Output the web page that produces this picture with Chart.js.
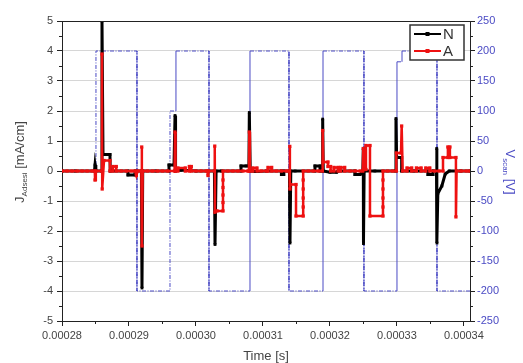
<!DOCTYPE html>
<html>
<head>
<meta charset="utf-8">
<script src="https://cdn.jsdelivr.net/npm/chart.js@4.4.1/dist/chart.umd.min.js"></script>
<style>
  html, body { margin: 0; padding: 0; background: #fff; }
</style>
</head>
<body>
<canvas id="chart" width="523" height="363"></canvas>
<script>
// time in microseconds, axis labels shown in seconds
const timeTicksUs = [280, 290, 300, 310, 320, 330, 340];

// V_scan [V]  (right axis)
const vScan = [
  [280.0, 0], [285.07, 0], [285.07, 200], [291.19, 200], [291.19, -200],
  [296.12, -200], [296.12, 100], [297.01, 100], [297.01, 200], [301.94, 200],
  [301.94, -200], [308.06, -200], [308.06, 200], [313.88, 200], [313.88, -200],
  [318.96, -200], [318.96, 200], [325.07, 200], [325.07, -200], [330.0, -200],
  [330.0, 182], [330.75, 182], [330.75, 200], [335.97, 200], [335.97, -200],
  [340.9, -200]
];

// N  [mA/cm]
const seriesN = [
  [280.0, 0], [282.0, 0], [284.85, 0], [284.93, 0.2], [285.05, 0],
  [285.9, 0], [285.97, 5.0], [286.12, 0.55], [287.16, 0.55], [287.2, 0],
  [289.85, 0], [289.85, -0.13], [290.9, -0.13], [290.9, 0],
  [291.85, 0], [291.94, -3.9], [292.05, 0], [294.0, 0],
  [295.97, 0], [295.97, 0.2], [296.72, 0.2], [296.87, 1.85], [296.95, 0], [297.7, 0.03],
  [300.0, 0], [302.75, 0], [302.84, -2.45], [303.0, 0], [303.8, 0],
  [306.72, 0], [306.72, 0.17], [307.46, 0.17], [307.9, 0.17], [307.96, 1.95], [308.1, 0],
  [308.9, -0.02], [310.5, 0],
  [312.75, 0], [312.75, -0.12], [313.1, -0.12], [313.1, 0],
  [313.95, 0], [314.03, -2.4], [314.15, 0], [314.8, 0],
  [317.76, 0], [317.76, 0.17], [318.51, 0.17], [318.51, 0], [318.85, 0], [318.91, 1.73], [319.0, 0],
  [320.0, -0.04], [321.0, -0.04], [321.2, 0],
  [323.73, 0], [323.73, -0.12], [324.5, -0.12], [324.9, 0],
  [324.97, 0.75], [325.0, -2.42], [325.1, 0], [326.7, 0],
  [329.8, 0], [329.85, 1.75], [329.95, 0.45], [330.7, 0.45], [330.7, 0], [332.5, 0],
  [334.63, 0], [334.63, -0.12], [335.37, -0.12], [335.37, 0],
  [335.9, 0], [335.93, 0.75], [335.97, -2.4], [336.1, -0.75], [336.7, -0.5], [337.2, -0.1],
  [337.8, 0], [339.5, 0], [340.9, 0]
];

// A  [mA/cm]
const seriesA = [
  [280.0, 0], [280.75, 0], [281.5, 0], [282.25, 0], [283.0, 0], [283.75, 0], [284.5, 0],
  [284.9, 0], [284.93, -0.3], [285.05, 0],
  [285.9, 0], [285.97, 3.9], [286.0, -0.6], [286.27, 0.35], [287.16, 0.35], [287.16, 0],
  [287.6, 0], [287.6, 0.15], [288.1, 0.15], [288.1, 0], [288.85, 0], [289.6, 0],
  [290.35, 0], [290.9, 0], [291.1, -0.15], [291.3, 0],
  [291.85, 0], [291.9, 0.8], [291.94, -2.5], [292.05, 0],
  [292.75, 0], [293.5, 0], [294.25, 0], [295.0, 0], [295.75, 0],
  [296.8, 0], [296.87, 1.3], [296.95, 0],
  [297.3, 0], [297.3, 0.1], [298.4, 0.1], [298.4, 0], [299.0, 0], [299.0, 0.15],
  [299.3, 0.15], [299.3, 0], [300.0, 0], [300.75, 0], [301.5, 0],
  [301.7, 0], [301.79, -0.15], [301.9, 0],
  [302.75, 0], [302.8, 0.83], [302.84, -1.37], [303.13, -1.33], [304.03, -1.33],
  [304.03, -1.05], [304.03, -0.8], [304.03, -0.55], [304.03, -0.3], [304.03, 0],
  [304.75, 0], [305.5, 0], [306.25, 0], [307.0, 0], [307.75, 0],
  [307.9, 0], [307.96, 1.3], [308.05, 0],
  [308.5, 0], [308.5, 0.1], [309.1, 0.1], [309.1, 0], [309.75, 0], [310.5, 0],
  [310.75, 0], [310.75, 0.12], [311.3, 0.12], [311.3, 0], [312.0, 0], [312.75, 0], [313.5, 0],
  [313.95, 0], [314.0, 0.82], [314.03, -0.6], [314.1, -0.45], [314.93, -0.45],
  [314.93, -1.5], [316.0, -1.5], [316.0, -1.2], [316.0, -0.9], [316.0, -0.6], [316.0, -0.3], [316.0, 0],
  [316.75, 0], [317.5, 0], [318.25, 0],
  [318.85, 0], [318.91, 1.35], [319.0, 0.3], [319.7, 0.3], [319.7, 0.15], [320.1, 0.15], [320.1, 0],
  [320.6, 0], [320.6, 0.12], [321.2, 0.12], [321.2, 0], [321.6, 0], [321.6, 0.12],
  [322.2, 0.12], [322.2, 0], [323.0, 0], [323.75, 0], [324.5, 0],
  [324.9, 0], [324.97, 0.75], [325.05, 0.05], [325.37, 0.05], [325.37, 0.85],
  [325.97, 0.85], [325.97, -1.5], [327.91, -1.5],
  [327.91, -1.2], [327.91, -0.9], [327.91, -0.6], [327.91, -0.3], [327.91, 0],
  [328.6, 0], [329.35, 0],
  [329.9, 0], [329.9, 0.6], [330.6, 0.6], [330.7, 1.5], [330.85, 0],
  [331.5, 0], [331.5, 0.1], [332.2, 0.1], [332.2, 0], [332.9, 0], [332.9, 0.1],
  [333.6, 0.1], [333.6, 0], [334.3, 0], [334.3, 0.1], [334.9, 0.1], [334.9, 0],
  [335.6, 0], [336.3, 0],
  [336.87, 0], [336.87, 0.45], [337.6, 0.45], [337.6, 0.8], [337.9, 0.8], [337.9, 0.45],
  [338.8, 0.45], [338.8, -1.53], [338.9, 0],
  [339.6, 0], [340.35, 0], [340.9, 0]
];

const toXY = arr => arr.map(([t, v]) => ({ x: t, y: v }));

const FONT = "'Liberation Sans', Arial, sans-serif";
const BLUE = '#4a4ac4';
const RED = '#ee1111';

// minor ticks, top border, axis titles with subscripts, legend box
const decorations = {
  id: 'decorations',
  afterDraw(chart) {
    const c = chart.ctx;
    const a = chart.chartArea;
    const sx = chart.scales.x, sy = chart.scales.y, sv = chart.scales.y2;

    c.save();
    c.strokeStyle = '#222';
    c.lineWidth = 1;
    c.beginPath();
    c.moveTo(a.left, a.top + 0.5);
    c.lineTo(a.right, a.top + 0.5);
    c.stroke();

    c.beginPath();
    for (let t = 285; t < 341; t += 10) {
      const px = Math.round(sx.getPixelForValue(t)) + 0.5;
      c.moveTo(px, a.bottom); c.lineTo(px, a.bottom + 3);
    }
    for (let v = -4.5; v < 5; v += 1) {
      const py = Math.round(sy.getPixelForValue(v)) + 0.5;
      c.moveTo(a.left, py); c.lineTo(a.left - 3, py);
    }
    for (let v = -225; v < 250; v += 50) {
      const py = Math.round(sv.getPixelForValue(v)) + 0.5;
      c.moveTo(a.right, py); c.lineTo(a.right + 3, py);
    }
    c.stroke();

    const drawParts = (parts, color) => {
      c.fillStyle = color;
      c.textBaseline = 'alphabetic';
      let total = 0;
      parts.forEach(p => { c.font = p.f; p.w = c.measureText(p.t).width; total += p.w; });
      let x = -total / 2;
      parts.forEach(p => {
        c.font = p.f;
        c.fillText(p.t, x, p.dy);
        x += p.w;
      });
    };

    // left title
    c.save();
    c.translate(24, 162);
    c.rotate(-Math.PI / 2);
    drawParts([
      { t: 'J', f: '13px ' + FONT, dy: 0 },
      { t: 'Adsesi', f: '8px ' + FONT, dy: 3 },
      { t: ' [mA/cm]', f: '13px ' + FONT, dy: 0 }
    ], '#444');
    c.restore();

    // right title
    c.save();
    c.translate(506, 172);
    c.rotate(Math.PI / 2);
    drawParts([
      { t: 'V', f: '13px ' + FONT, dy: 0 },
      { t: 'scan', f: '8px ' + FONT, dy: 3 },
      { t: ' [V]', f: '13px ' + FONT, dy: 0 }
    ], BLUE);
    c.restore();

    // x title
    c.fillStyle = '#444';
    c.font = '13px ' + FONT;
    c.textAlign = 'center';
    c.textBaseline = 'alphabetic';
    c.fillText('Time [s]', 266, 360);

    // legend
    const lx = 410, ly = 25, lw = 54, lh = 35;
    c.fillStyle = '#fff';
    c.fillRect(lx, ly, lw, lh);
    c.strokeStyle = '#333';
    c.lineWidth = 1.5;
    c.strokeRect(lx, ly, lw, lh);
    const entries = [
      { label: 'N', color: '#000', y: ly + 9 },
      { label: 'A', color: RED, y: ly + 26 }
    ];
    entries.forEach(e => {
      c.strokeStyle = e.color;
      c.lineWidth = 2;
      c.beginPath();
      c.moveTo(lx + 4, e.y); c.lineTo(lx + 31, e.y);
      c.stroke();
      c.fillStyle = e.color;
      c.fillRect(lx + 15.5, e.y - 2, 4, 4);
      c.fillStyle = '#333';
      c.font = '15px ' + FONT;
      c.textAlign = 'left';
      c.textBaseline = 'middle';
      c.fillText(e.label, lx + 33, e.y + 1);
    });
    c.restore();
  }
};

new Chart(
  document.getElementById('chart'),
  {
    type: 'line',
    data: {
      datasets: [
        {
          label: 'A',
          data: toXY(seriesA),
          yAxisID: 'y',
          borderColor: RED,
          backgroundColor: RED,
          borderWidth: 2.5,
          pointStyle: 'rect',
          pointRadius: 2.3,
          pointBorderWidth: 0,
          tension: 0
        },
        {
          label: 'N',
          data: toXY(seriesN),
          yAxisID: 'y',
          borderColor: '#000',
          backgroundColor: '#000',
          borderWidth: 3,
          pointStyle: 'rect',
          pointRadius: 2,
          pointBorderWidth: 0,
          tension: 0
        },
        {
          label: 'V_scan',
          data: toXY(vScan),
          yAxisID: 'y2',
          borderColor: BLUE,
          borderWidth: 1,
          pointRadius: 0,
          tension: 0,
          segment: {
            borderDash: s => (s.p1.parsed.y > s.p0.parsed.y && s.p0.parsed.y !== 0 && s.p1.parsed.y !== 100) ? [] : [4, 1.5, 1, 1.5]
          }
        }
      ]
    },
    options: {
      responsive: false,
      animation: false,
      devicePixelRatio: 1,
      layout: { padding: { top: 21, left: 0, right: 0, bottom: 0 } },
      plugins: {
        legend: { display: false },
        tooltip: { enabled: false }
      },
      scales: {
        x: {
          type: 'linear',
          min: 280,
          max: 340.9,
          afterBuildTicks: s => { s.ticks = timeTicksUs.map(v => ({ value: v })); },
          afterFit: s => { s.height = 42; },
          ticks: {
            autoSkip: false,
            maxRotation: 0,
            padding: 3,
            color: '#444',
            font: { family: FONT, size: 11 },
            callback: v => (v / 1e6).toFixed(5)
          },
          grid: { drawOnChartArea: false, drawTicks: true, tickLength: 5, tickColor: '#222' },
          border: { display: true, color: '#222', width: 1 }
        },
        y: {
          position: 'left',
          min: -5,
          max: 5,
          afterFit: s => { s.width = 62; },
          ticks: {
            stepSize: 1,
            padding: 4,
            color: '#444',
            font: { family: FONT, size: 11 }
          },
          grid: { color: '#d6d6d6', tickColor: '#222', tickLength: 5 },
          border: { display: true, color: '#222', width: 1 }
        },
        y2: {
          position: 'right',
          min: -250,
          max: 250,
          afterFit: s => { s.width = 53; },
          ticks: {
            stepSize: 50,
            padding: 2,
            color: BLUE,
            font: { family: FONT, size: 11 }
          },
          grid: { drawOnChartArea: false, tickColor: '#222', tickLength: 5 },
          border: { display: true, color: '#222', width: 1 }
        }
      }
    },
    plugins: [decorations]
  }
);
</script>
</body>
</html>
